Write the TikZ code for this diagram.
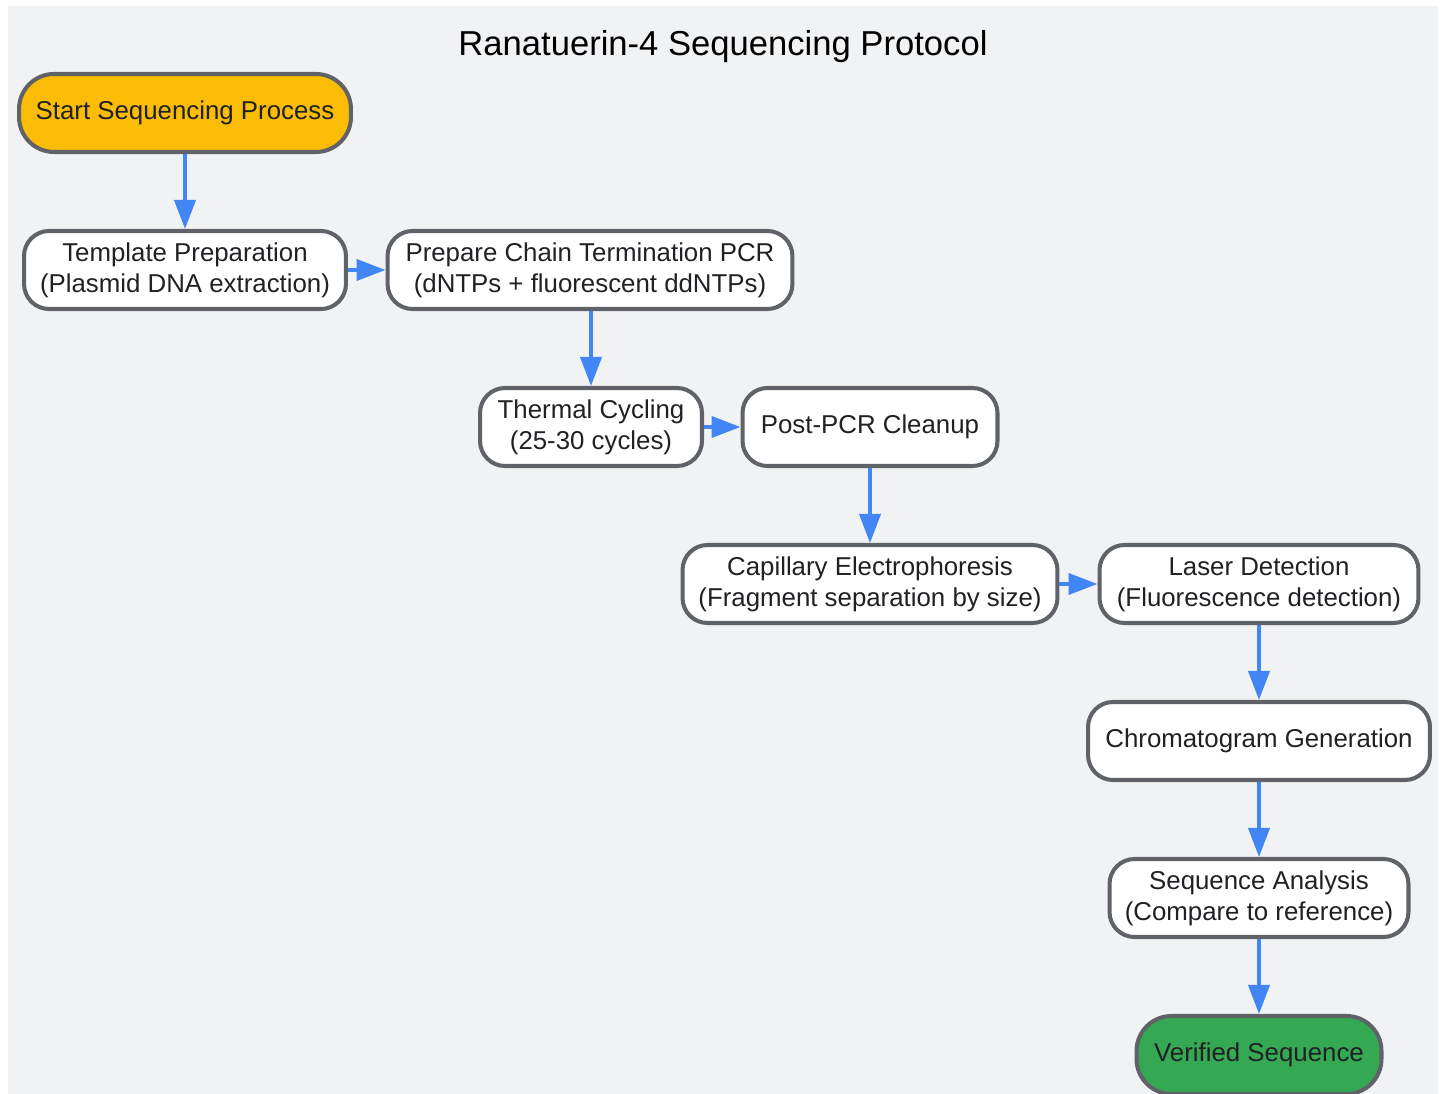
\documentclass[tikz,border=0pt]{standalone}
\usepackage{fontspec}
\setmainfont{Liberation Sans}
\usetikzlibrary{positioning,arrows.meta}
\definecolor{bgGray}{HTML}{F1F2F4}
\definecolor{edgeGray}{HTML}{5F6368}
\definecolor{flowBlue}{HTML}{4285F4}
\definecolor{startGold}{HTML}{FBBC05}
\definecolor{endGreen}{HTML}{34A853}
\definecolor{txtDark}{HTML}{202124}

\begin{document}
\begin{tikzpicture}[
      x=0.02cm, y=-0.02cm,
      stepbox/.style={draw=edgeGray,line width=2.3pt,fill=white,rounded corners=0.5cm,
        align=center,minimum height=1.56cm,inner sep=2pt,text=txtDark,
        font=\fontsize{14.7}{17.6}\selectfont},
      termbox/.style={stepbox,rounded corners=0.7cm},
      flow/.style={-{Triangle[length=0.58cm,width=0.42cm]},draw=flowBlue,line width=2.2pt},
    ]
    \useasboundingbox (0,0) rectangle (1445,1094);
    \fill[bgGray] (8,6) rectangle (1438,1094);

    % Title
    \node[font=\fontsize{19.7}{23}\selectfont] (title) at (723,47) {Ranatuerin-4 Sequencing Protocol};

    % Preparation
    \node[termbox,fill=startGold,minimum width=6.64cm] (start) at (185,113) {Start Sequencing Process};
    \node[stepbox,minimum width=6.44cm] (tmpl) at (185,270) {Template Preparation\\(Plasmid DNA extraction)};
    \node[stepbox,minimum width=8.1cm] (pcr) at (590,270) {Prepare Chain Termination PCR\\(dNTPs + fluorescent ddNTPs)};

    % Reaction
    \node[stepbox,minimum width=4.44cm] (cycle) at (591,427) {Thermal Cycling\\(25-30 cycles)};
    \node[stepbox,minimum width=5.1cm] (clean) at (870,427) {Post-PCR Cleanup};

    % Detection
    \node[stepbox,minimum width=7.5cm] (capil) at (870,584) {Capillary Electrophoresis\\(Fragment separation by size)};
    \node[stepbox,minimum width=6.38cm] (laser) at (1259,584) {Laser Detection\\(Fluorescence detection)};
    \node[stepbox,minimum width=6.84cm] (chrom) at (1259,741) {Chromatogram Generation};
    \node[stepbox,minimum width=5.98cm] (anal) at (1259,898) {Sequence Analysis\\(Compare to reference)};
    \node[termbox,fill=endGreen,minimum width=4.9cm] (done) at (1259,1055) {Verified Sequence};

    \draw[flow] (start) -- (tmpl);
    \draw[flow] (tmpl) -- (pcr);
    \draw[flow] (pcr.south -| cycle) -- (cycle);
    \draw[flow] (cycle) -- (clean);
    \draw[flow] (clean) -- (capil);
    \draw[flow] (capil) -- (laser);
    \draw[flow] (laser) -- (chrom);
    \draw[flow] (chrom) -- (anal);
    \draw[flow] (anal) -- (done);
  \end{tikzpicture}
\end{document}
